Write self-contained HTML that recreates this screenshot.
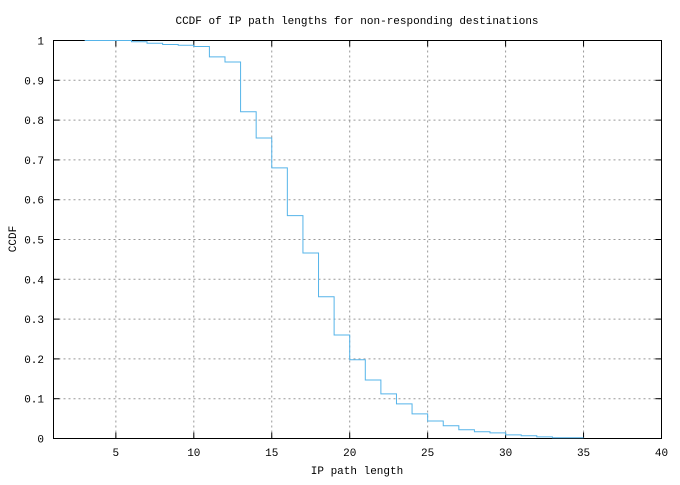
<!DOCTYPE html>
<html><head><meta charset="utf-8"><style>
body{margin:0;background:#fff}
svg text{font-family:"Liberation Mono",monospace;font-size:11px;fill:#000}
</style></head><body>
<svg id="chart" width="680" height="480" xmlns="http://www.w3.org/2000/svg">
<rect width="680" height="480" fill="#fff"/>
<text x="357" y="24" text-anchor="middle">CCDF of IP path lengths for non-responding destinations</text>
<text x="357" y="474" text-anchor="middle">IP path length</text>
<text transform="translate(16,239) rotate(-90)" text-anchor="middle">CCDF</text>
<g id="grid"></g><g id="ticks"></g>
<rect x="53.5" y="40.5" width="608" height="398" fill="none" stroke="#000" stroke-width="1"/>
<g id="series"></g>
</svg>
<script>
const xSteps=[3,4,5,6,7,8,9,10,11,12,13,14,15,16,17,18,19,20,21,22,23,24,25,26,27,28,29,30,31,32,33,34];
const ccdfValues=[1,1,1,0.997,0.993,0.99,0.988,0.985,0.959,0.946,0.821,0.755,0.68,0.56,0.466,0.356,0.26,0.198,0.147,0.112,0.087,0.062,0.044,0.032,0.022,0.017,0.014,0.009,0.007,0.004,0.002,0.002];
const xTicks=[5,10,15,20,25,30,35,40];
const yTicks=[0,0.1,0.2,0.3,0.4,0.5,0.6,0.7,0.8,0.9,1];
const yTickLabels=["0","0.1","0.2","0.3","0.4","0.5","0.6","0.7","0.8","0.9","1"];
const L=53.5,R=661.5,T=40.5,B=438.5,XMIN=1,XMAX=40;
const sx=v=>L+(v-XMIN)/(XMAX-XMIN)*(R-L);
const sy=v=>B-v*(B-T);
const NS="http://www.w3.org/2000/svg";
function mk(tag,parent){const e=document.createElementNS(NS,tag);parent.appendChild(e);return e;}
const grid=document.getElementById('grid'),ticks=document.getElementById('ticks'),series=document.getElementById('series');
xTicks.forEach(v=>{const x=sx(v);
 if(v<XMAX){const g=mk('line',grid);
 
 
 g.setAttribute('x1',x);g.setAttribute('x2',x);g.setAttribute('y1',T);g.setAttribute('y2',B);g.setAttribute('stroke','#999');g.setAttribute('stroke-dasharray','2,3');}
 [[B,B-6],[T,T+6]].forEach(p=>{const t=mk('line',ticks);
 
 
 t.setAttribute('x1',x);t.setAttribute('x2',x);t.setAttribute('y1',p[0]);t.setAttribute('y2',p[1]);t.setAttribute('stroke','#000');});
 const l=mk('text',ticks);
 
 
 l.setAttribute('x',x);l.setAttribute('y',456);l.setAttribute('text-anchor','middle');l.textContent=v;});
yTicks.forEach((v,i)=>{const y=sy(v);
 if(v>0&&v<1){const g=mk('line',grid);
 
 
 g.setAttribute('x1',L);g.setAttribute('x2',R);g.setAttribute('y1',y);g.setAttribute('y2',y);g.setAttribute('stroke','#999');g.setAttribute('stroke-dasharray','2,3');}
 [[L,L+6],[R,R-6]].forEach(p=>{const t=mk('line',ticks);
 
 
 t.setAttribute('x1',p[0]);t.setAttribute('x2',p[1]);t.setAttribute('y1',y);t.setAttribute('y2',y);t.setAttribute('stroke','#000');});
 const l=mk('text',ticks);
 
 
 l.setAttribute('x',44);l.setAttribute('y',y+4);l.setAttribute('text-anchor','end');l.textContent=yTickLabels[i];});
let d='';
xSteps.forEach((x,i)=>{const y=sy(ccdfValues[i]);d+=(i===0?'M':'L')+sx(x)+' '+y+' L'+sx(x+1)+' '+y+' ';});
const p=mk('path',series);


p.setAttribute('d',d);p.setAttribute('fill','none');p.setAttribute('stroke','#56b4e9');p.setAttribute('stroke-width','1');
</script>
</body></html>
